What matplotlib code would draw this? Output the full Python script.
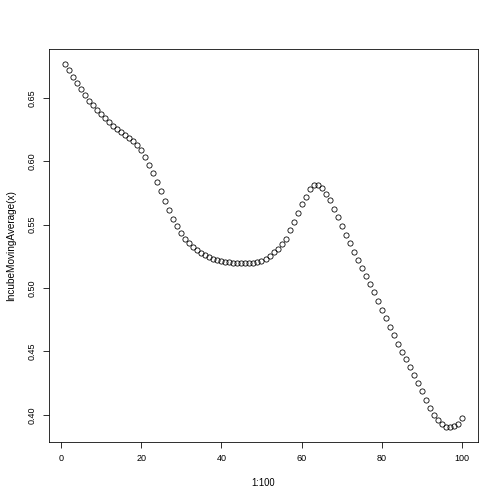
import matplotlib
matplotlib.use("Agg")
import matplotlib.pyplot as plt
import numpy as np

x = list(range(1, 101))
y = [0.677, 0.672, 0.6666, 0.6614, 0.6567, 0.6524, 0.6477, 0.6441, 0.6404, 0.637,
     0.6339, 0.6307, 0.628, 0.6254, 0.6228, 0.6203, 0.6183, 0.6161, 0.6128, 0.6091,
     0.6034, 0.5973, 0.5907, 0.5835, 0.5761, 0.5687, 0.5614, 0.5546, 0.5485, 0.5433,
     0.5388, 0.5351, 0.5323, 0.5299, 0.5278, 0.526, 0.5244, 0.5231, 0.522, 0.5213,
     0.5205, 0.5202, 0.5199, 0.5197, 0.5195, 0.5194, 0.5194, 0.52, 0.5205, 0.5213,
     0.5231, 0.5252, 0.528, 0.5309, 0.5349, 0.539, 0.5454, 0.552, 0.5591, 0.5659,
     0.5721, 0.5782, 0.5811, 0.5811, 0.5787, 0.5745, 0.569, 0.5624, 0.5557, 0.5488,
     0.542, 0.5352, 0.5285, 0.5222, 0.516, 0.5097, 0.5031, 0.4965, 0.49, 0.4829,
     0.4764, 0.4695, 0.4627, 0.4561, 0.4498, 0.4438, 0.4375, 0.4317, 0.4254, 0.4189,
     0.412, 0.4057, 0.4002, 0.3957, 0.3926, 0.3906, 0.39, 0.3908, 0.3931, 0.3971]
xticks = [0, 20, 40, 60, 80, 100]
yticks = [0.40, 0.45, 0.50, 0.55, 0.60, 0.65]
xlabel = "1:100"
ylabel = "IncubeMovingAverage(x)"

plt.rcParams['font.family'] = ['Liberation Sans', 'DejaVu Sans']
fig = plt.figure(figsize=(7, 7), dpi=72)
W = H = 504
ax = fig.add_axes([49 / W, 62 / H, 429 / W, 393 / H])
ax.plot(x, y, linestyle='none', marker='o', markersize=5.2,
        markerfacecolor='none', markeredgecolor='black', markeredgewidth=0.8)

xr = max(x) - min(x)
yr = max(y) - min(y)
ax.set_xlim(min(x) - 0.04 * xr, max(x) + 0.04 * xr)
ax.set_ylim(min(y) - 0.04 * yr, max(y) + 0.04 * yr)
ax.set_xticks(xticks)
ax.set_xticklabels([str(t) for t in xticks])
ax.set_yticks(yticks)
ax.set_yticklabels([f"{t:.2f}" for t in yticks], rotation=90, va='center')
ax.tick_params(direction='out', length=6, width=0.8, labelsize=9, pad=6)
for s in ax.spines.values():
    s.set_linewidth(0.8)
ax.set_xlabel(xlabel, fontsize=9.5)
ax.set_ylabel(ylabel, fontsize=10)
ax.xaxis.set_label_coords(0.5, (442 - 478) / 393)
ax.yaxis.set_label_coords((16 - 49) / 429, 0.5)
fig.savefig("out.png", dpi=72)
